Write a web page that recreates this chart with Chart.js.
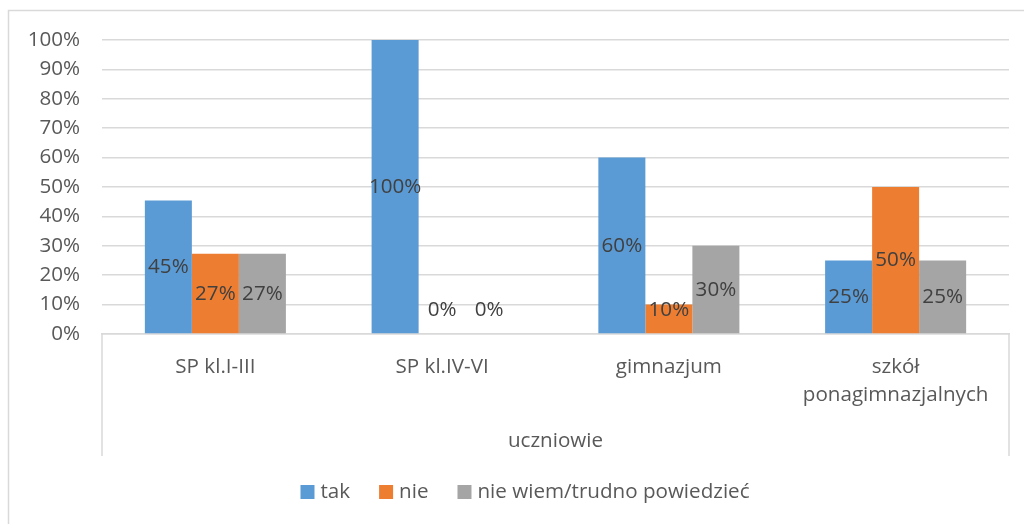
<!DOCTYPE html>
<html lang="pl">
<head>
  <meta charset="UTF-8" />
  <title>uczniowie</title>
  <script src="https://cdn.jsdelivr.net/npm/chart.js@4.4.0/dist/chart.umd.min.js"></script>
  <style>
    html, body { margin: 0; padding: 0; background: #fff; }
    .wrap { position: relative; width: 1024px; height: 524px; }
  </style>
</head>
<body>
  <div class="wrap"><canvas id="chart"></canvas></div>

  <script>
    // --- data -------------------------------------------------------
    const categories = ['SP kl.I-III', 'SP kl.IV-VI', 'gimnazjum', ['szkół', 'ponagimnazjalnych']];
    const groupLabel = 'uczniowie';
    const seriesNames = ['tak', 'nie', 'nie wiem/trudno powiedzieć'];
    const tak = [45.45, 100, 60, 25];
    const nie = [27.27, 0, 10, 50];
    const nieWiem = [27.27, 0, 30, 25];
    const colors = ['#5B9BD5', '#ED7D31', '#A5A5A5'];

    const FONT = '"Open Sans", sans-serif';
    const SIZE = 20.6;
    const LINE = '#D9D9D9';

    // frame, group label and outer divider lines
    const framePlugin = {
      id: 'frame',
      afterDraw(chart) {
        const { ctx, chartArea: a } = chart;
        ctx.save();
        ctx.strokeStyle = LINE;
        ctx.lineWidth = 1.5;
        ctx.beginPath();
        ctx.moveTo(8.5, 530); ctx.lineTo(8.5, 10.5); ctx.lineTo(1030, 10.5);
        ctx.moveTo(a.left, a.bottom); ctx.lineTo(a.left, a.bottom + 122);
        ctx.moveTo(a.right, a.bottom); ctx.lineTo(a.right, a.bottom + 122);
        ctx.stroke();
        ctx.fillStyle = '#595959';
        ctx.font = SIZE + 'px ' + FONT;
        ctx.textAlign = 'center';
        ctx.textBaseline = 'middle';
        ctx.fillText(groupLabel, (a.left + a.right) / 2, a.bottom + 107);
        ctx.restore();
      }
    };

    // value labels, centred in the bar like Excel does
    const labelPlugin = {
      id: 'valueLabels',
      afterDatasetsDraw(chart) {
        const { ctx } = chart;
        const base = chart.scales.y.getPixelForValue(0);
        ctx.save();
        ctx.fillStyle = '#404040';
        ctx.font = SIZE + 'px ' + FONT;
        ctx.textAlign = 'center';
        ctx.textBaseline = 'middle';
        chart.data.datasets.forEach((ds, i) => {
          chart.getDatasetMeta(i).data.forEach((bar, j) => {
            const y = Math.min((bar.y + base) / 2, base - 24);
            ctx.fillText(Math.round(ds.data[j]) + '%', bar.x, y);
          });
        });
        ctx.restore();
      }
    };

    // legend drawn by hand so it sits where Excel puts it
    const legendPlugin = {
      id: 'bottomLegend',
      afterDraw(chart) {
        const { ctx } = chart;
        ctx.save();
        ctx.font = SIZE + 'px ' + FONT;
        const box = 14, gap = 6, spacing = 29;
        const widths = seriesNames.map(n => box + gap + ctx.measureText(n).width);
        const total = widths.reduce((s, w) => s + w, 0) + spacing * (widths.length - 1);
        let x = 525 - total / 2;
        const y = 492;
        ctx.textBaseline = 'middle';
        ctx.textAlign = 'left';
        seriesNames.forEach((n, i) => {
          ctx.fillStyle = colors[i];
          ctx.fillRect(x, y - 7, box, box);
          ctx.fillStyle = '#595959';
          ctx.fillText(n, x + box + gap, y);
          x += widths[i] + spacing;
        });
        ctx.restore();
      }
    };

    new Chart(document.getElementById('chart'), {
      type: 'bar',
      data: {
        labels: categories,
        datasets: [
          { label: seriesNames[0], data: tak, backgroundColor: colors[0] },
          { label: seriesNames[1], data: nie, backgroundColor: colors[1] },
          { label: seriesNames[2], data: nieWiem, backgroundColor: colors[2] }
        ]
      },
      options: {
        responsive: true,
        maintainAspectRatio: false,
        animation: false,
        layout: { padding: { top: 40, right: 15, left: 0, bottom: 0 } },
        datasets: { bar: { categoryPercentage: 0.622, barPercentage: 1 } },
        scales: {
          x: {
            grid: { display: false, drawTicks: false },
            border: { display: true, color: LINE, width: 1.5 },
            ticks: {
              color: '#595959',
              font: { family: FONT, size: SIZE, lineHeight: 1.35 },
              padding: 19,
              maxRotation: 0,
              autoSkip: false
            },
            afterFit(s) { s.height = 190; }
          },
          y: {
            min: 0,
            max: 100,
            grid: { color: LINE, lineWidth: 1.5, drawTicks: false },
            border: { display: false },
            ticks: {
              stepSize: 10,
              color: '#595959',
              font: { family: FONT, size: SIZE },
              padding: 22,
              callback: v => v + '%'
            },
            afterFit(s) { s.width = 102; }
          }
        },
        plugins: {
          legend: { display: false },
          tooltip: { enabled: false }
        }
      },
      plugins: [framePlugin, labelPlugin, legendPlugin]
    });
  </script>
</body>
</html>
